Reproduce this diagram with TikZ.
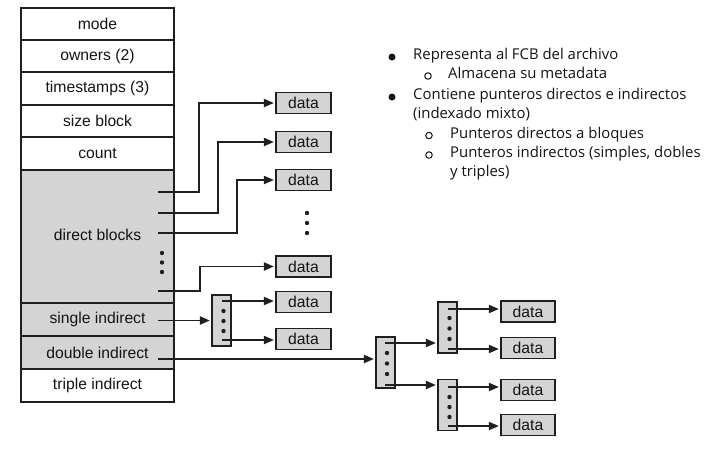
\documentclass[tikz,border=0pt]{standalone}
\usepackage{fontspec}
\setmainfont{Liberation Sans}
\newfontfamily\bulletfont{Open Sans}
\usetikzlibrary{arrows.meta}
\definecolor{linecol}{HTML}{1F1F1F}
\definecolor{boxgray}{HTML}{D4D4D4}
\definecolor{txtcol}{HTML}{141414}
\begin{document}
\begin{tikzpicture}[x=1pt,y=-1pt,
  diag/.style={font=\fontsize{15.7}{18}\selectfont, text=txtcol},
  rowbox/.style={diag, draw=linecol, line width=1.3pt, minimum width=153pt, inner sep=0pt},
  graybox/.style={rowbox, fill=boxgray},
  databox/.style={diag, draw=linecol, line width=1.2pt, fill=boxgray, minimum width=55pt, minimum height=21pt, inner sep=0pt},
  idxbox/.style={draw=linecol, line width=1.2pt, fill=boxgray, minimum width=19pt, minimum height=51pt, inner sep=0pt},
  arr/.style={draw=linecol, line width=1.9pt, -{Triangle[length=10pt,width=8pt]}, shorten >=1.5pt},
  dotc/.style={fill=linecol},
  bl/.style={font=\bulletfont\fontsize{14.9}{19}\selectfont, text=txtcol, anchor=mid west, inner sep=0pt},
  bulletfull/.style={circle, fill=txtcol, minimum size=7pt, inner sep=0pt},
  bulletopen/.style={circle, draw=txtcol, line width=1pt, minimum size=6.5pt, inner sep=0pt}
]
\useasboundingbox[fill=white] (0,0) rectangle (710,448);

% inode table
\node[rowbox, minimum height=32pt] (mode) at (97.5,24) {mode};
\node[rowbox, minimum height=32pt] (owners) at (97.5,56) {owners (2)};
\node[rowbox, minimum height=33pt] (times) at (97.5,88.5) {timestamps (3)};
\node[rowbox, minimum height=32pt] (size) at (97.5,121) {size block};
\node[rowbox, minimum height=33pt] (count) at (97.5,153.5) {count};
\node[graybox, minimum height=133pt] (direct) at (97.5,236.5) {};
\node[diag] (directlbl) at (97.5,235) {direct blocks};
\node[graybox, minimum height=33pt] (single) at (97.5,319.5) {single indirect};
\node[graybox, minimum height=33pt] (double) at (97.5,352.5) {double indirect};
\node[rowbox, minimum height=33pt] (triple) at (97.5,385.5) {triple indirect};

% dots in direct blocks
\fill[dotc] (162,253) circle (2.2);
\fill[dotc] (162,262.5) circle (2.2);
\fill[dotc] (162,272) circle (2.2);

% direct data blocks
\node[databox] (d1) at (303.5,103) {data};
\node[databox] (d2) at (303.5,142) {data};
\node[databox] (d3) at (303.5,180) {data};
\node[databox] (d4) at (303.5,266.5) {data};
\fill[dotc] (307,213) circle (2.2);
\fill[dotc] (307,223) circle (2.2);
\fill[dotc] (307,233) circle (2.2);

\coordinate (s1) at (158,192);
\coordinate (s2) at (158,213);
\coordinate (s3) at (158,233);
\coordinate (s4) at (158,291);
\draw[arr] (s1) -- ++(41,0) |- (d1.west);
\draw[arr] (s2) -- ++(60,0) |- (d2.west);
\draw[arr] (s3) -- ++(79,0) |- (d3.west);
\draw[arr] (s4) -- ++(42,0) |- (d4.west);

% single indirect
\node[idxbox] (i1) at (221.5,320.5) {};
\node[databox] (e1) at (303.5,302) {data};
\node[databox] (e2) at (303.5,339) {data};
\fill[dotc] (223.5,311) circle (2.2);
\fill[dotc] (223.5,321) circle (2.2);
\fill[dotc] (223.5,331) circle (2.2);
\coordinate (s5) at (158,320.5);
\draw[arr] (s5) -- (s5 -| i1.west);
\coordinate (i1a) at (222,301);
\coordinate (i1b) at (222,340);
\draw[arr] (i1a) -- (i1a -| e1.west);
\draw[arr] (i1b) -- (i1b -| e2.west);

% double indirect
\node[idxbox] (i2) at (385.5,362.5) {};
\node[idxbox] (i3) at (447.5,327.5) {};
\node[idxbox] (i4) at (447.5,405) {};
\node[databox, minimum width=54pt] (f1) at (528,311.5) {data};
\node[databox, minimum width=54pt] (f2) at (528,348) {data};
\node[databox, minimum width=54pt] (f3) at (528,390) {data};
\node[databox, minimum width=54pt] (f4) at (528,425) {data};
\fill[dotc] (387,353) circle (2.2);
\fill[dotc] (387,363.5) circle (2.2);
\fill[dotc] (387,374) circle (2.2);
\fill[dotc] (449.5,318) circle (2.2);
\fill[dotc] (449.5,328.5) circle (2.2);
\fill[dotc] (449.5,339) circle (2.2);
\fill[dotc] (449.5,397) circle (2.2);
\fill[dotc] (449.5,407) circle (2.2);
\fill[dotc] (449.5,417) circle (2.2);
\coordinate (s6) at (158,359);
\draw[arr] (s6) -- (s6 -| i2.west);
\coordinate (i2a) at (385,343);
\coordinate (i2b) at (385,385);
\draw[arr] (i2a) -- (i2a -| i3.west);
\draw[arr] (i2b) -- (i2b -| i4.west);
\coordinate (i3a) at (448,309);
\coordinate (i3b) at (448,349);
\coordinate (i4a) at (448,387);
\coordinate (i4b) at (448,426);
\draw[arr] (i3a) -- (i3a -| f1.west);
\draw[arr] (i3b) -- (i3b -| f2.west);
\draw[arr] (i4a) -- (i4a -| f3.west);
\draw[arr] (i4b) -- (i4b -| f4.west);

% bullet list
\node[bulletfull] (b1) at (392,57) {};
\node[bl] (t1) at (413,57) {Representa al FCB del archivo};
\node[bulletopen] (b2) at (428,76) {};
\node[bl] (t2) at (448,76) {Almacena su metadata};
\node[bulletfull] (b3) at (392,97) {};
\node[bl] (t3) at (413,97) {Contiene punteros directos e indirectos};
\node[bl] (t4) at (413,116) {(indexado mixto)};
\node[bulletopen] (b5) at (429,135.5) {};
\node[bl] (t5) at (450,135.5) {Punteros directos a bloques};
\node[bulletopen] (b6) at (429,155) {};
\node[bl] (t6) at (450,155) {Punteros indirectos (simples, dobles};
\node[bl] (t7) at (450,174) {y triples)};
\end{tikzpicture}
\end{document}
